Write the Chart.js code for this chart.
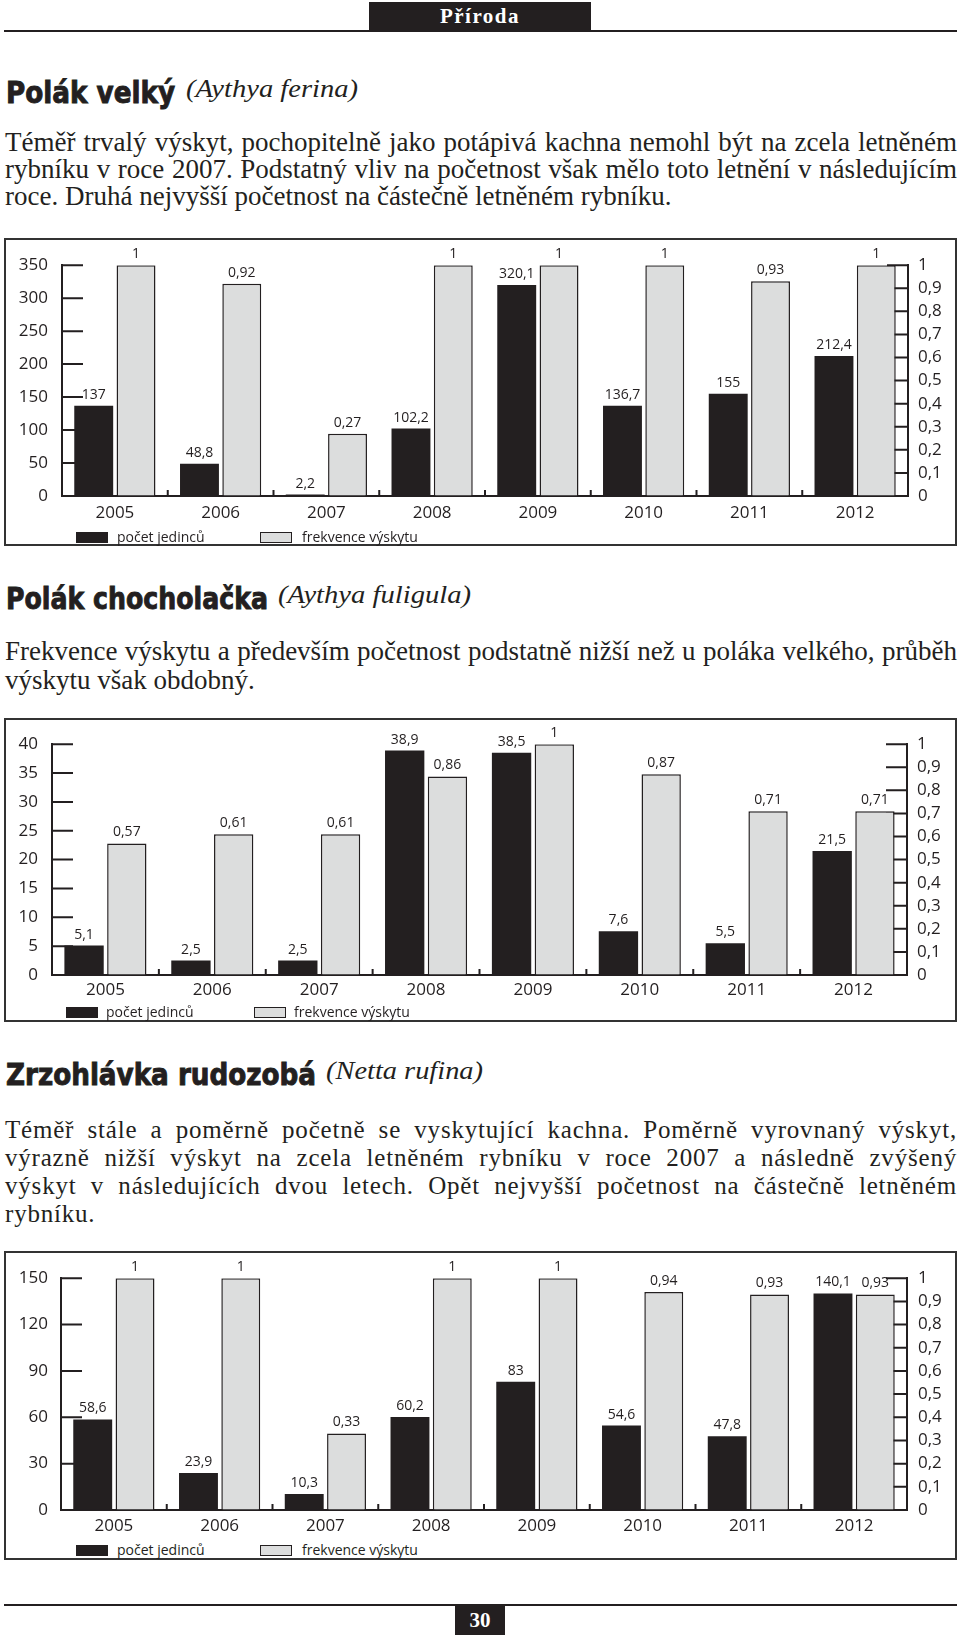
<!DOCTYPE html>
<html lang="cs">
<head>
<meta charset="utf-8">
<title>Příroda – poláci a zrzohlávka</title>
<script src="https://cdn.jsdelivr.net/npm/chart.js@4.4.1/dist/chart.umd.min.js"></script>
<style>
  html, body { margin: 0; padding: 0; background: #fff; }
  body { width: 960px; height: 1644px; position: relative; overflow: hidden; color: #231f20; }
  .rule { position: absolute; left: 4px; width: 953px; height: 2px; background: #231f20; }
  .tab { position: absolute; background: #231f20; color: #fff; text-align: center;
         font: bold 21px "Liberation Serif", serif; letter-spacing: 1.5px; }
  .title { position: absolute; left: 6px; white-space: nowrap; line-height: 36px;
           font: bold 31px "DejaVu Sans Condensed", "DejaVu Sans", sans-serif; transform-origin: left center;
           -webkit-text-stroke: 0.9px #231f20; }
  .latin { position: absolute; white-space: nowrap; line-height: 36px;
           font: italic 26px "Liberation Serif", serif; transform-origin: left center; }
  .para { position: absolute; left: 5px; width: 952px; font-family: "Liberation Serif", serif; font-size: 27px; }
  .para div { text-align: justify; text-align-last: justify; }
  .para div.end { text-align-last: left; }
  .box { position: absolute; left: 4px; width: 953px; border: 2px solid #333; box-sizing: border-box; }
  canvas { position: absolute; left: 6px; }
  .sw { position: absolute; width: 32px; height: 11px; box-sizing: border-box; }
  .sw.dark { background: #231f20; }
  .sw.pale { background: #dcdddd; border: 1.5px solid #231f20; }
  .lt { position: absolute; font: 14px "Open Sans", sans-serif; line-height: 16px; white-space: nowrap; }
</style>
</head>
<body>

<div class="tab" style="left:369px;top:2px;width:222px;height:29px;line-height:29px">Příroda</div>
<div class="rule" style="top:30px"></div>

<!-- Polák velký -->
<div class="title" style="top:74px" data-w="169">Polák velký</div>
<div class="latin" style="left:186px;top:74px" data-w="172">(Aythya ferina)</div>
<div class="para" style="top:129px;line-height:27px">
  <div>Téměř trvalý výskyt, pochopitelně jako potápivá kachna nemohl být na zcela letněném</div>
  <div>rybníku v roce 2007. Podstatný vliv na početnost však mělo toto letnění v následujícím</div>
  <div class="end">roce. Druhá nejvyšší početnost na částečně letněném rybníku.</div>
</div>
<div class="box" style="top:238px;height:308px"></div>
<canvas id="ferina" width="948" height="290" style="top:241px;width:948px;height:290px"></canvas>
<div class="sw dark" style="left:76px;top:532px"></div>
<div class="lt" style="left:117px;top:529px">počet jedinců</div>
<div class="sw pale" style="left:260px;top:532px"></div>
<div class="lt" style="left:302px;top:529px">frekvence výskytu</div>

<!-- Polák chocholačka -->
<div class="title" style="top:580px" data-w="262">Polák chocholačka</div>
<div class="latin" style="left:278px;top:580px" data-w="193">(Aythya fuligula)</div>
<div class="para" style="top:637px;line-height:29px">
  <div>Frekvence výskytu a především početnost podstatně nižší než u poláka velkého, průběh</div>
  <div class="end">výskytu však obdobný.</div>
</div>
<div class="box" style="top:718px;height:304px"></div>
<canvas id="fuligula" width="948" height="285" style="top:720px;width:948px;height:285px"></canvas>
<div class="sw dark" style="left:66px;top:1007px"></div>
<div class="lt" style="left:106px;top:1004px">počet jedinců</div>
<div class="sw pale" style="left:254px;top:1007px"></div>
<div class="lt" style="left:294px;top:1004px">frekvence výskytu</div>

<!-- Zrzohlávka rudozobá -->
<div class="title" style="top:1056px" data-w="310">Zrzohlávka rudozobá</div>
<div class="latin" style="left:326px;top:1056px" data-w="157">(Netta rufina)</div>
<div class="para" style="top:1116px;line-height:28px;font-size:25px;letter-spacing:0.8px">
  <div>Téměř stále a poměrně početně se vyskytující kachna. Poměrně vyrovnaný výskyt,</div>
  <div>výrazně nižší výskyt na zcela letněném rybníku v roce 2007 a následně zvýšený</div>
  <div>výskyt v následujících dvou letech. Opět nejvyšší početnost na částečně letněném</div>
  <div class="end">rybníku.</div>
</div>
<div class="box" style="top:1251px;height:309px"></div>
<canvas id="rufina" width="948" height="285" style="top:1255px;width:948px;height:285px"></canvas>
<div class="sw dark" style="left:76px;top:1545px"></div>
<div class="lt" style="left:117px;top:1542px">počet jedinců</div>
<div class="sw pale" style="left:260px;top:1545px"></div>
<div class="lt" style="left:302px;top:1542px">frekvence výskytu</div>

<div class="rule" style="top:1604px"></div>
<div class="tab" style="left:455px;top:1606px;width:50px;height:29px;line-height:29px;letter-spacing:0">30</div>

<script>
// Data
const years = ['2005', '2006', '2007', '2008', '2009', '2010', '2011', '2012'];

// Polák velký (Aythya ferina)
const ferinaCount = [137, 48.8, 2.2, 102.2, 320.1, 136.7, 155, 212.4];
const ferinaFreq = [1, 0.92, 0.27, 1, 1, 1, 0.93, 1];
const ferinaCountTicks = [0, 350, 50];   // min, max, step

// Polák chocholačka (Aythya fuligula)
const fuligulaCount = [5.1, 2.5, 2.5, 38.9, 38.5, 7.6, 5.5, 21.5];
const fuligulaFreq = [0.57, 0.61, 0.61, 0.86, 1, 0.87, 0.71, 0.71];
const fuligulaCountTicks = [0, 40, 5];

// Zrzohlávka rudozobá (Netta rufina)
const rufinaCount = [58.6, 23.9, 10.3, 60.2, 83, 54.6, 47.8, 140.1];
const rufinaFreq = [1, 1, 0.33, 1, 1, 0.94, 0.93, 0.93];
const rufinaCountTicks = [0, 150, 30];

const freqTicks = [0, 1, 0.1];
const seriesNames = ['počet jedinců', 'frekvence výskytu'];

const INK = '#231f20';
const PALE = '#dcdddd';
const FONT = '"Open Sans", sans-serif';

// Czech decimal comma
function comma(v) {
    return String(Math.round(v * 100) / 100).replace('.', ',');
}

// Tick marks pointing into the plot, and small marks between years
const inwardTicks = {
    id: 'inwardTicks',
    beforeDatasetsDraw(chart, args, opts) {
        const ctx = chart.ctx;
        const { x, yCount, yFreq } = chart.scales;
        ctx.save();
        ctx.strokeStyle = INK;
        ctx.lineWidth = 2;
        ctx.beginPath();
        yCount.ticks.forEach(t => {
            const y = yCount.getPixelForValue(t.value);
            ctx.moveTo(yCount.right, y);
            ctx.lineTo(yCount.right + opts.len, y);
        });
        yFreq.ticks.forEach(t => {
            const y = yFreq.getPixelForValue(t.value);
            ctx.moveTo(yFreq.left, y);
            ctx.lineTo(yFreq.left - opts.len, y);
        });
        for (let i = 1; i < x.ticks.length; i++) {
            const px = (x.getPixelForValue(i - 1) + x.getPixelForValue(i)) / 2;
            ctx.moveTo(px, x.top);
            ctx.lineTo(px, x.top - 6);
        }
        ctx.stroke();
        ctx.restore();
    }
};

// Value above every bar
const valueLabels = {
    id: 'valueLabels',
    afterDatasetsDraw(chart) {
        const ctx = chart.ctx;
        ctx.save();
        ctx.font = '14px ' + FONT;
        ctx.fillStyle = INK;
        ctx.textAlign = 'center';
        ctx.textBaseline = 'bottom';
        chart.data.datasets.forEach((ds, di) => {
            chart.getDatasetMeta(di).data.forEach((bar, i) => {
                ctx.fillText(comma(ds.data[i]), bar.x, bar.y - 4);
            });
        });
        ctx.restore();
    }
};

function makeChart(id, counts, freqs, countTicks, frame) {
    const axisLine = { display: true, color: INK, width: 2 };
    const noGrid = { drawOnChartArea: false, drawTicks: false };
    const tickFont = { family: FONT, size: 17 };

    return new Chart(document.getElementById(id), {
        type: 'bar',
        data: {
            labels: years,
            datasets: [{
                label: seriesNames[0],
                data: counts,
                yAxisID: 'yCount',
                backgroundColor: INK,
                borderWidth: 0,
                categoryPercentage: 0.8,
                barPercentage: 0.92
            }, {
                label: seriesNames[1],
                data: freqs,
                yAxisID: 'yFreq',
                backgroundColor: PALE,
                borderColor: INK,
                borderWidth: 1.5,
                categoryPercentage: 0.8,
                barPercentage: 0.92
            }]
        },
        options: {
            responsive: false,
            animation: false,
            layout: { padding: { top: frame.top, left: 0, right: 0, bottom: 0 } },
            plugins: {
                legend: { display: false },
                tooltip: { enabled: false },
                inwardTicks: { len: 21 }
            },
            scales: {
                x: {
                    grid: noGrid,
                    border: axisLine,
                    ticks: { color: INK, font: tickFont, padding: frame.xPad },
                    afterFit: s => { s.height = frame.xh; }
                },
                yCount: {
                    position: 'left',
                    min: countTicks[0],
                    max: countTicks[1],
                    grid: noGrid,
                    border: axisLine,
                    ticks: { stepSize: countTicks[2], autoSkip: false, color: INK, font: tickFont,
                             padding: frame.leftPad, callback: v => comma(v) },
                    afterFit: s => { s.width = frame.left; }
                },
                yFreq: {
                    position: 'right',
                    min: freqTicks[0],
                    max: freqTicks[1],
                    grid: noGrid,
                    border: axisLine,
                    ticks: { stepSize: freqTicks[2], autoSkip: false, color: INK, font: tickFont,
                             padding: frame.rightPad, callback: v => comma(v) },
                    afterFit: s => { s.width = frame.right; }
                }
            }
        },
        plugins: [inwardTicks, valueLabels]
    });
}

// Squeeze headings to the width they have in print
function fitHeadings() {
    document.querySelectorAll('[data-w]').forEach(el => {
        const w = el.getBoundingClientRect().width;
        el.style.transform = 'scaleX(' + (Number(el.dataset.w) / w) + ')';
    });
}

window.onload = function() {
    fitHeadings();
    makeChart('ferina', ferinaCount, ferinaFreq, ferinaCountTicks,
        { left: 56, right: 46, top: 21, xh: 35, leftPad: 14, rightPad: 10, xPad: 7 });
    makeChart('fuligula', fuligulaCount, fuligulaFreq, fuligulaCountTicks,
        { left: 46, right: 47, top: 22, xh: 30, leftPad: 14, rightPad: 10, xPad: 5 });
    makeChart('rufina', rufinaCount, rufinaFreq, rufinaCountTicks,
        { left: 55, right: 47, top: 21, xh: 30, leftPad: 13, rightPad: 11, xPad: 6 });
};
</script>
</body>
</html>
